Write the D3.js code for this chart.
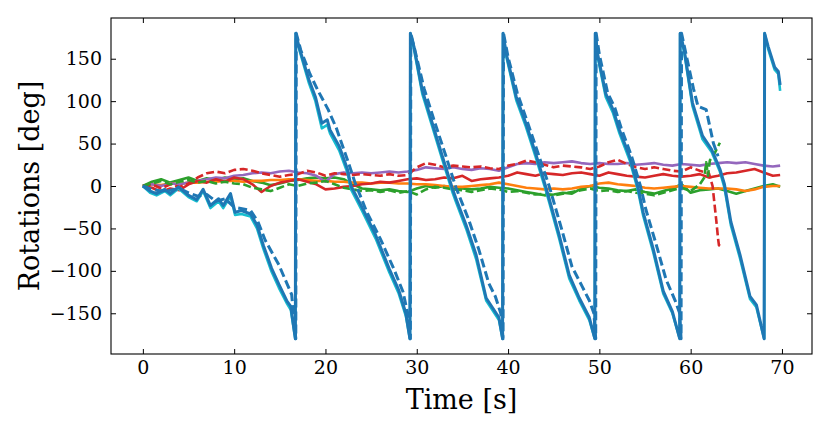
<!DOCTYPE html>
<meta charset="utf-8">
<style>
body { margin: 0; background: #fff; }
text { font-family: "DejaVu Serif", serif; }
</style>
<body>
<script src="https://cdn.jsdelivr.net/npm/d3@7"></script>
<script>
// yaw, first estimate (solid blue) - jumps at +-180 wrap
var tYaw = [0,0.8,1.5,2.4,3,3.9,5,5.9,6.6,7.4,8.3,8.8,9.6,10.1,10.8,11.8,12.5,13.2,14.1,14.9,15.8,16.2,16.7,
  16.75,17.1,18.2,18.9,19.6,20.2,20.5,21.5,22.4,22.8,24,25.5,27,28,28.8,29.25,
  29.3,29.7,30.6,31.7,32.8,33.9,34.3,35.4,36.5,37.6,39,39.4,
  39.45,39.8,40.9,41.95,43,44.1,44.5,45.6,46.7,47.8,48.9,49.5,
  49.55,49.8,50.7,51.5,52.2,53.3,54.2,54.8,55.9,57,58,58.8,
  58.85,59.3,60.2,61.3,62.3,63.2,63.7,64.4,65.4,66.5,67.2,68.05,
  68.1,68.5,69.2,69.6,69.8];
var yawA = [0,-6,-9,-4,-9,-1,-11,-16,-4,-23,-15,-23,-9,-31,-29,-33,-46,-70,-97,-116,-136,-142,-180,
  180,164,125,105,74,78,66,47,20,0,-25,-58,-98,-122,-150,-180,
  180,164,113,74,35,-3,-15,-46,-81,-132,-155,-180,
  180,156,105,74,39,0,-15,-58,-105,-132,-155,-180,
  180,156,109,90,66,35,0,-31,-74,-124,-148,-180,
  180,160,98,59,43,20,2,-42,-81,-130,-140,-180,
  180,164,140,135,119];
// yaw, second estimate (cyan)
var yawB = [0,-8,-11,-6,-11,-3,-13,-18,-6,-26,-18,-26,-12,-34,-33,-36,-50,-74,-101,-120,-139,-146,-180,
  180,162,121,100,68,72,62,42,16,-4,-29,-62,-102,-126,-153,-180,
  180,161,109,70,31,-7,-19,-50,-86,-135,-158,-180,
  180,153,101,70,35,-4,-19,-62,-109,-135,-158,-180,
  180,153,105,86,62,31,-4,-35,-78,-127,-150,-180,
  180,157,94,55,40,17,-2,-46,-85,-133,-143,-180,
  180,161,137,132,112];
// yaw, reference (dashed blue), stops at 63 s
var tYawRef = [0,1,2,3,4,5,6,7,8,9,10,11,11.8,12.6,13.4,14.9,16.3,16.75,
  16.8,17.3,18.3,19.2,20.3,21.2,22.5,23.2,24.5,26,27.5,28.5,29,29.3,
  29.35,29.8,30.8,32,33.2,34.3,35.7,36.8,37.9,38.6,39.2,39.45,
  39.5,40,41,42.1,43.3,44.5,45.9,47,48.1,48.9,49.4,49.6,
  49.65,50,50.9,51.7,52.4,53.5,54.5,55.1,56.2,57.3,58.3,58.8,58.95,
  59,59.5,60.3,60.8,61.7,62.1,62.5,63];
var yawRef = [0,-4,-6,-5,-3,-8,-12,-10,-18,-15,-25,-27,-29,-42,-64,-93,-128,-180,
  180,160,132,112,90,68,28,5,-30,-62,-98,-125,-150,-180,
  180,160,115,74,35,-2,-40,-75,-115,-130,-150,-180,
  180,152,110,76,38,0,-52,-95,-118,-135,-150,-180,
  180,155,110,92,68,36,0,-28,-68,-110,-135,-150,-180,
  180,155,115,94,90,70,50,35];

// small angles, sampled each second
var tSmall = [0,1,2,3,4,5,6,7,8,9,10,11,12,13,14,15,16,17,18,19,20,21,22,23,24,25,26,27,28,29,
  30,31,32,33,34,35,36,37,38,39,40,41,42,43,44,45,46,47,48,49,50,51,52,53,54,55,56,57,58,59,
  60,61,62,63,64,65,66,67,68,69,69.8];
var redSolid = [0,-2,-7,-3,-5,2,6,4,8,5,10,8,2,-7,0,4,6,8,5,2,-4,-3,-1,0,2,3,5,4,6,8,
  9,7,8,10,9,12,6,8,9,10,12,16,14,12,15,14,13,15,16,14,12,16,14,12,11,10,12,14,12,11,
  12,14,10,12,15,16,18,20,16,12,13];
var purple = [0,2,0,3,2,4,6,8,10,9,12,13,15,16,15,17,18,16,15,12,5,14,16,15,16,15,16,17,16,17,
  19,22,21,20,22,20,19,21,20,18,22,26,27,26,28,27,28,29,27,26,27,26,26,27,25,26,27,25,24,26,
  25,24,26,27,28,27,28,26,24,23,24];
var orange = [0,2,1,3,2,4,4,5,5,6,6,5,6,6,7,7,8,8,7,6,6,5,5,4,4,3,4,4,3,3,
  2,2,1,0,-1,-1,0,1,2,4,2,0,-2,-3,-4,-3,-4,-3,-1,0,3,4,2,1,0,-2,-3,-2,-1,0,
  -1,-2,-3,-3,-3,-4,-6,-4,-1,0,0];
var greenSolid = [0,5,8,4,7,10,6,9,7,10,8,9,6,4,1,3,6,7,9,10,9,10,8,2,-3,-4,-5,-4,-6,-7,
  -3,0,-2,0,-2,-3,-4,-3,-1,-2,-3,-5,-7,-9,-11,-10,-8,-9,-3,0,-2,-3,-5,-6,-4,-7,-9,-6,-3,2,
  -8,-5,-4,-3,-6,-9,-6,-3,0,2,-1];
// dashed red and green stop near 63 s
var tRedDash = [0,1,2,3,4,5,6,7,8,9,10,11,12,13,14,15,16,17,18,19,20,21,22,23,24,25,26,27,28,29,
  30,31,32,33,34,35,36,37,38,39,40,41,42,43,44,45,46,47,48,49,50,51,52,53,54,55,56,57,58,59,
  60,61,62,62.4,62.8,63,63.1,63.2];
var redDash = [0,2,-3,2,-1,3,10,15,17,15,19,20,18,15,13,11,13,14,18,16,12,15,14,13,14,13,12,14,12,13,
  22,27,25,22,24,23,22,23,21,20,24,26,30,28,25,22,24,23,22,20,23,28,31,26,22,20,22,20,18,17,
  22,18,15,0,-40,-62,-70,-66];
var tGreenDash = [0,1,2,3,4,5,6,7,8,9,10,11,12,13,14,15,16,17,18,19,20,21,22,23,24,25,26,27,28,29,
  30,31,32,33,34,35,36,37,38,39,40,41,42,43,44,45,46,47,48,49,50,51,52,53,54,55,56,57,58,59,
  60,61,61.5,61.7,61.9,62.1,62.6,63.2];
var greenDash = [0,3,6,2,5,7,4,6,3,5,3,2,-2,-4,-6,-2,2,0,3,4,6,2,-2,-4,-6,-5,-7,-5,-8,-6,
  -10,-4,-1,-2,-4,-5,-7,-5,-3,-4,-7,-6,-8,-10,-9,-11,-9,-7,-5,-3,-6,-5,-7,-6,-8,-9,-11,-8,-5,-2,
  -6,2,10,28,12,30,38,51];

var xTicks = [0,10,20,30,40,50,60,70];
var yTicks = [-150,-100,-50,0,50,100,150];

var width = 830, height = 433;
var margin = {top: 18, right: 18, bottom: 79, left: 111};

var svg = d3.select("body").append("svg")
    .attr("width", width)
    .attr("height", height);

var x = d3.scaleLinear().domain([-3.49, 73.29]).range([margin.left, width - margin.right]);
var y = d3.scaleLinear().domain([-198, 198]).range([height - margin.bottom, margin.top]);

var line = d3.line()
    .x(function(d) { return x(d[0]); })
    .y(function(d) { return y(d[1]); });

function pairs(t, v) { return t.map(function(d, i) { return [d, v[i]]; }); }

var series = [
  {t: tSmall, v: greenSolid, color: "#2ca02c", w: 2.6, dash: null},
  {t: tSmall, v: orange, color: "#ff7f0e", w: 2.6, dash: null},
  {t: tSmall, v: purple, color: "#9467bd", w: 2.6, dash: null},
  {t: tSmall, v: redSolid, color: "#d62728", w: 2.6, dash: null},
  {t: tRedDash, v: redDash, color: "#d62728", w: 2.6, dash: "8,3.5"},
  {t: tGreenDash, v: greenDash, color: "#2ca02c", w: 2.6, dash: "8,3.5"},
  {t: tYaw, v: yawB, color: "#17becf", w: 2.6, dash: null},
  {t: tYaw, v: yawA, color: "#1f77b4", w: 3, dash: null},
  {t: tYawRef, v: yawRef, color: "#1f77b4", w: 3, dash: "9,4"}
];

var plot = svg.append("g");
plot.append("clipPath").attr("id", "clip")
  .append("rect")
    .attr("x", margin.left).attr("y", margin.top)
    .attr("width", width - margin.left - margin.right)
    .attr("height", height - margin.top - margin.bottom);

plot.selectAll("path.series")
    .data(series)
  .enter().append("path")
    .attr("class", "series")
    .attr("clip-path", "url(#clip)")
    .attr("d", function(s) { return line(pairs(s.t, s.v)); })
    .attr("fill", "none")
    .attr("stroke", function(s) { return s.color; })
    .attr("stroke-width", function(s) { return s.w; })
    .attr("stroke-dasharray", function(s) { return s.dash; })
    .attr("stroke-linejoin", "round");

// axes, ticks pointing inward on all four sides
var fmt = function(d) { return d < 0 ? "\u2212" + Math.abs(d) : d; };

svg.append("g")
    .attr("transform", "translate(0," + (height - margin.bottom) + ")")
    .call(d3.axisBottom(x).tickValues(xTicks).tickSize(-5).tickPadding(7).tickFormat(fmt));
svg.append("g")
    .attr("transform", "translate(" + margin.left + ",0)")
    .call(d3.axisLeft(y).tickValues(yTicks).tickSize(-5).tickPadding(9).tickFormat(fmt));
svg.append("g")
    .attr("transform", "translate(0," + margin.top + ")")
    .call(d3.axisTop(x).tickValues(xTicks).tickSize(-5).tickFormat(""));
svg.append("g")
    .attr("transform", "translate(" + (width - margin.right) + ",0)")
    .call(d3.axisRight(y).tickValues(yTicks).tickSize(-5).tickFormat(""));

svg.selectAll(".domain").remove();
svg.selectAll(".tick line").attr("stroke", "#000").attr("stroke-width", 1);
svg.selectAll(".tick text")
    .attr("font-family", "DejaVu Serif")
    .attr("font-size", 19)
    .attr("fill", "#000");

svg.append("rect")
    .attr("x", margin.left).attr("y", margin.top)
    .attr("width", width - margin.left - margin.right)
    .attr("height", height - margin.top - margin.bottom)
    .attr("fill", "none")
    .attr("stroke", "#000")
    .attr("stroke-width", 1.1);

svg.append("text")
    .attr("x", (x(-3.49) + x(73.29)) / 2)
    .attr("y", 409)
    .attr("text-anchor", "middle")
    .attr("font-size", 27)
    .text("Time [s]");

svg.append("text")
    .attr("transform", "translate(39," + ((margin.top + height - margin.bottom) / 2) + ") rotate(-90)")
    .attr("text-anchor", "middle")
    .attr("font-size", 27)
    .text("Rotations [deg]");
</script>
</body>
